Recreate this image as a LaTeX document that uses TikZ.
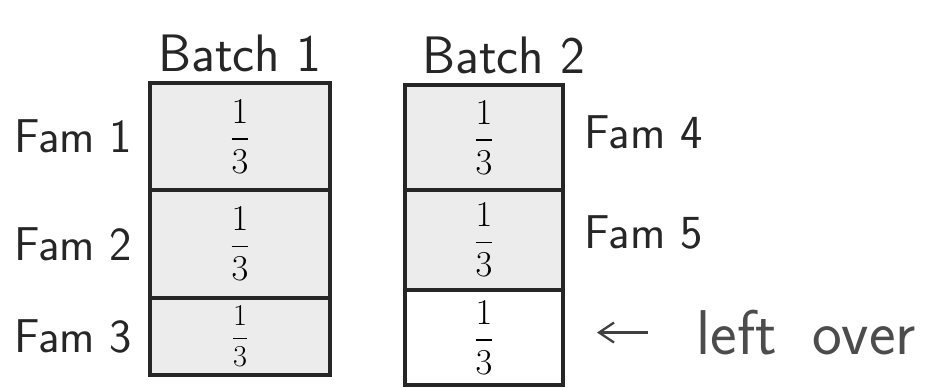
\documentclass[tikz,border=0pt]{standalone}
\usepackage{amsmath}
\usetikzlibrary{positioning, arrows.meta}
\tikzset{
    cell/.style={draw=black!85, line width=2pt, fill=gray!15, inner sep=0pt, outer sep=0pt,
        minimum width=#1, font=\fontsize{22}{24}\selectfont},
    cell/.default={3.6cm},
    spare/.style={fill=white},
    tag/.style={font=\fontsize{30}{34}\selectfont\sffamily, inner sep=2pt, text=black!85},
    famtag/.style={tag, font=\fontsize{27}{30}\selectfont\sffamily},
    arrowline/.style={draw=black!75, line width=1.3pt, -{Straight Barb[length=3mm, width=4mm]}},
}

\begin{document}
\begin{tikzpicture}

    % Canvas
    \useasboundingbox (0,0) rectangle (18.98,-7.76);

    % 1. Batch 1 column
    \node[cell, minimum height=2.14cm, anchor=north] (b1c1) at (4.8,-1.66) {$\dfrac{1}{3}$};
    \node[cell, minimum height=2.16cm, below=0pt of b1c1] (b1c2) {$\dfrac{1}{3}$};
    \node[cell, minimum height=1.54cm, below=0pt of b1c2, font=\fontsize{17}{19}\selectfont] (b1c3) {$\dfrac{1}{3}$};

    % 2. Batch 2 column
    \node[cell=3.16cm, minimum height=2.1cm, anchor=north] (b2c1) at (9.68,-1.7) {$\dfrac{1}{3}$};
    \node[cell=3.16cm, minimum height=2.0cm, below=0pt of b2c1] (b2c2) {$\dfrac{1}{3}$};
    \node[cell=3.16cm, spare, minimum height=1.9cm, below=0pt of b2c2] (b2c3) {$\dfrac{1}{3}$};

    % 3. Headers
    \node[tag, above=4pt of b1c1] (batch1) {Batch 1};
    \node[tag, above=4pt of b2c1, xshift=0.4cm] (batch2) {Batch 2};

    % 4. Family labels
    \node[famtag, left=8pt of b1c1] (fam1) {Fam 1};
    \node[famtag, left=8pt of b1c2] (fam2) {Fam 2};
    \node[famtag, left=8pt of b1c3] (fam3) {Fam 3};
    \node[famtag, right=10pt of b2c1, yshift=0.1cm] (fam4) {Fam 4};
    \node[famtag, right=10pt of b2c2, yshift=0.15cm] (fam5) {Fam 5};

    % 5. Left over
    \node[tag, font=\fontsize{36}{40}\selectfont\sffamily, text=black!70, right=2.6cm of b2c3, yshift=0.1cm] (leftover) {left\hspace{0.7cm}over};
    \draw[arrowline, shorten <=0.9cm, shorten >=0.68cm] (leftover.west) -- (b2c3.east |- leftover.west);

\end{tikzpicture}
\end{document}
